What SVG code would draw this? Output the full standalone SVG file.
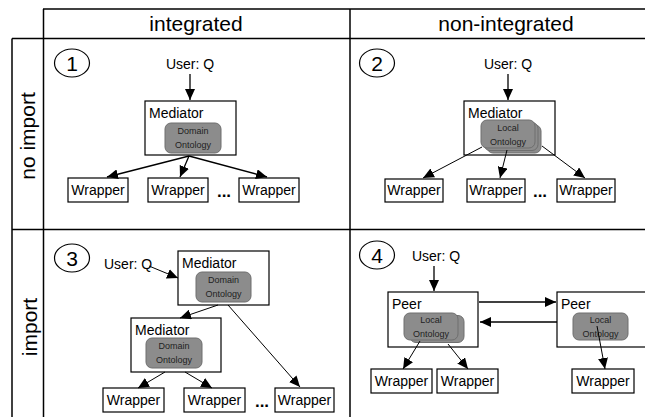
<svg xmlns="http://www.w3.org/2000/svg" width="645" height="417" viewBox="0 0 645 417">
  <defs>
    <marker id="arrow" markerUnits="userSpaceOnUse" markerWidth="12" markerHeight="10" refX="11" refY="5" orient="auto">
      <path d="M0,0 L11,5 L0,10 Z" fill="#000"/>
    </marker>
    <style>
      .grid { stroke: #000; stroke-width: 1.5; fill: none; }
      .hdr { font-family: "Liberation Sans", Arial, sans-serif; font-size: 21px; fill: #000; }
      .lbl { font-family: "Liberation Sans", Arial, sans-serif; font-size: 14px; fill: #000; }
      .dots { font-family: "Liberation Sans", Arial, sans-serif; font-size: 17px; font-weight: bold; fill: #000; text-anchor: middle; }
      .small { font-family: "Liberation Sans", Arial, sans-serif; font-size: 9px; fill: #222; text-anchor: middle; }
      .num { font-family: "Liberation Sans", Arial, sans-serif; font-size: 21px; fill: #000; text-anchor: middle; }
      .box { fill: #fff; stroke: #000; stroke-width: 1.2; }
      .onto { fill: #8c8c8c; stroke: #6e6e6e; stroke-width: 1; }
      .mark { fill: #fff; stroke: #000; stroke-width: 1.2; }
      .edge { stroke: #000; stroke-width: 1.3; fill: none; marker-end: url(#arrow); }
      .thin { stroke-width: 1; }
    </style>
  </defs>

  <!-- table grid -->
  <g id="grid">
    <line class="grid" x1="43" y1="9" x2="645" y2="9" stroke="#555"/>
    <line class="grid" x1="12" y1="38.5" x2="645" y2="38.5"/>
    <line class="grid" x1="12" y1="229.5" x2="645" y2="229.5"/>
    <line class="grid" x1="43.5" y1="9" x2="43.5" y2="417"/>
    <line class="grid" x1="350" y1="9" x2="350" y2="417"/>
    <line class="grid" x1="12" y1="38.5" x2="12" y2="417"/>
  </g>

  <!-- headers -->
  <g id="headers">
    <text class="hdr" x="196" y="31" text-anchor="middle">integrated</text>
    <text class="hdr" x="506" y="31" text-anchor="middle">non-integrated</text>
    <text class="hdr" transform="translate(35,136) rotate(-90)" text-anchor="middle">no import</text>
    <text class="hdr" transform="translate(37,327) rotate(-90)" text-anchor="middle">import</text>
  </g>

  <!-- case 1: integrated, no import -->
  <g id="case1">
    <ellipse class="mark" cx="72" cy="63" rx="17.5" ry="14"/>
    <text class="num" x="72" y="71">1</text>
    <text class="lbl" x="190" y="69" text-anchor="middle">User: Q</text>
    <g id="c1-mediator">
      <rect class="box" x="145" y="101" width="91" height="54"/>
      <text class="lbl" x="149" y="118">Mediator</text>
      <rect class="onto" x="165" y="123" width="56" height="30" rx="6"/>
      <text class="small" x="193" y="134">Domain</text>
      <text class="small" x="193" y="148">Ontology</text>
    </g>
    <g id="c1-w1"><rect class="box" x="68" y="178" width="60" height="24"/><text class="lbl" x="98" y="195" text-anchor="middle">Wrapper</text></g>
    <g id="c1-w2"><rect class="box" x="148" y="178" width="60" height="24"/><text class="lbl" x="178" y="195" text-anchor="middle">Wrapper</text></g>
    <text class="dots" x="224" y="197">...</text>
    <g id="c1-w3"><rect class="box" x="239" y="178" width="60" height="24"/><text class="lbl" x="269" y="195" text-anchor="middle">Wrapper</text></g>
  </g>

  <!-- case 2: non-integrated, no import -->
  <g id="case2">
    <ellipse class="mark" cx="377" cy="63" rx="17.5" ry="14"/>
    <text class="num" x="377" y="71">2</text>
    <text class="lbl" x="508" y="69" text-anchor="middle">User: Q</text>
    <g id="c2-mediator">
      <rect class="box" x="464" y="101" width="91" height="54"/>
      <text class="lbl" x="468" y="118">Mediator</text>
      <rect class="onto" x="487" y="125" width="54" height="28" rx="6"/>
      <rect class="onto" x="484" y="122.5" width="54" height="28" rx="6"/>
      <rect class="onto" x="481" y="120" width="54" height="28" rx="6"/>
      <text class="small" x="508" y="131">Local</text>
      <text class="small" x="508" y="145">Ontology</text>
    </g>
    <g id="c2-w1"><rect class="box" x="385" y="179" width="58" height="23"/><text class="lbl" x="414" y="195" text-anchor="middle">Wrapper</text></g>
    <g id="c2-w2"><rect class="box" x="467" y="179" width="58" height="23"/><text class="lbl" x="496" y="195" text-anchor="middle">Wrapper</text></g>
    <text class="dots" x="540" y="197">...</text>
    <g id="c2-w3"><rect class="box" x="557" y="179" width="58" height="23"/><text class="lbl" x="586" y="195" text-anchor="middle">Wrapper</text></g>
  </g>

  <!-- case 3: integrated, import -->
  <g id="case3">
    <ellipse class="mark" cx="72" cy="258" rx="17.5" ry="14"/>
    <text class="num" x="72" y="266">3</text>
    <text class="lbl" x="104" y="269">User: Q</text>
    <g id="c3-mediator-top">
      <rect class="box" x="178" y="251" width="91" height="54"/>
      <text class="lbl" x="182" y="268">Mediator</text>
      <rect class="onto" x="196" y="272" width="55" height="30" rx="6"/>
      <text class="small" x="223.5" y="283">Domain</text>
      <text class="small" x="223.5" y="297">Ontology</text>
    </g>
    <g id="c3-mediator-low">
      <rect class="box" x="131" y="318" width="90" height="54"/>
      <text class="lbl" x="135" y="335">Mediator</text>
      <rect class="onto" x="146" y="338" width="56" height="30" rx="6"/>
      <text class="small" x="174" y="349">Domain</text>
      <text class="small" x="174" y="363">Ontology</text>
    </g>
    <g id="c3-w1"><rect class="box" x="103" y="388" width="61" height="24"/><text class="lbl" x="133.5" y="405" text-anchor="middle">Wrapper</text></g>
    <g id="c3-w2"><rect class="box" x="184" y="388" width="61" height="24"/><text class="lbl" x="214.5" y="405" text-anchor="middle">Wrapper</text></g>
    <text class="dots" x="262" y="407">...</text>
    <g id="c3-w3"><rect class="box" x="275" y="388" width="59" height="24"/><text class="lbl" x="304.5" y="405" text-anchor="middle">Wrapper</text></g>
  </g>

  <!-- case 4: non-integrated, import -->
  <g id="case4">
    <ellipse class="mark" cx="377" cy="255" rx="17.5" ry="14"/>
    <text class="num" x="377" y="263">4</text>
    <text class="lbl" x="436" y="261" text-anchor="middle">User: Q</text>
    <g id="c4-peer1">
      <rect class="box" x="388" y="292" width="90" height="55"/>
      <text class="lbl" x="392" y="309">Peer</text>
      <rect class="onto" x="410" y="315.5" width="54" height="27" rx="6"/>
      <rect class="onto" x="404" y="313" width="54" height="27" rx="6"/>
      <text class="small" x="431" y="323">Local</text>
      <text class="small" x="431" y="337">Ontology</text>
    </g>
    <g id="c4-peer2">
      <rect class="box" x="557" y="292" width="92" height="55"/>
      <text class="lbl" x="561" y="309">Peer</text>
      <rect class="onto" x="573" y="313" width="55" height="27" rx="6"/>
      <text class="small" x="600.5" y="323">Local</text>
      <text class="small" x="600.5" y="337">Ontology</text>
    </g>
    <g id="c4-w1"><rect class="box" x="371" y="369" width="61" height="24"/><text class="lbl" x="401.5" y="386" text-anchor="middle">Wrapper</text></g>
    <g id="c4-w2"><rect class="box" x="437" y="369" width="61" height="24"/><text class="lbl" x="467.5" y="386" text-anchor="middle">Wrapper</text></g>
    <g id="c4-w3"><rect class="box" x="572" y="369" width="62" height="24"/><text class="lbl" x="603" y="386" text-anchor="middle">Wrapper</text></g>
  </g>

  <!-- connectors -->
  <g id="connectors">
    <line class="edge" x1="190" y1="74" x2="190" y2="100"/>
    <line class="edge" x1="189" y1="156" x2="107" y2="177"/>
    <line class="edge" x1="189" y1="156" x2="180" y2="177"/>
    <line class="edge" x1="189" y1="156" x2="267" y2="177"/>

    <line class="edge" x1="508" y1="74" x2="508" y2="100"/>
    <line class="edge thin" x1="482" y1="147" x2="423" y2="178"/>
    <line class="edge thin" x1="507" y1="150" x2="500" y2="178"/>
    <line class="edge thin" x1="542" y1="146" x2="585" y2="178"/>

    <line class="edge thin" x1="149" y1="266" x2="178" y2="278"/>
    <line class="edge thin" x1="218" y1="305" x2="180" y2="318"/>
    <line class="edge thin" x1="228" y1="305" x2="300" y2="387"/>
    <line class="edge thin" x1="165" y1="372" x2="138" y2="388"/>
    <line class="edge thin" x1="185" y1="372" x2="212" y2="388"/>

    <line class="edge" x1="434" y1="266" x2="434" y2="291"/>
    <line class="edge" x1="479" y1="302" x2="556" y2="302"/>
    <line class="edge" x1="557" y1="322" x2="480" y2="322"/>
    <line class="edge thin" x1="420" y1="341" x2="403" y2="369"/>
    <line class="edge thin" x1="448" y1="344" x2="468" y2="369"/>
    <line class="edge thin" x1="597" y1="326" x2="605" y2="369"/>
  </g>
</svg>
